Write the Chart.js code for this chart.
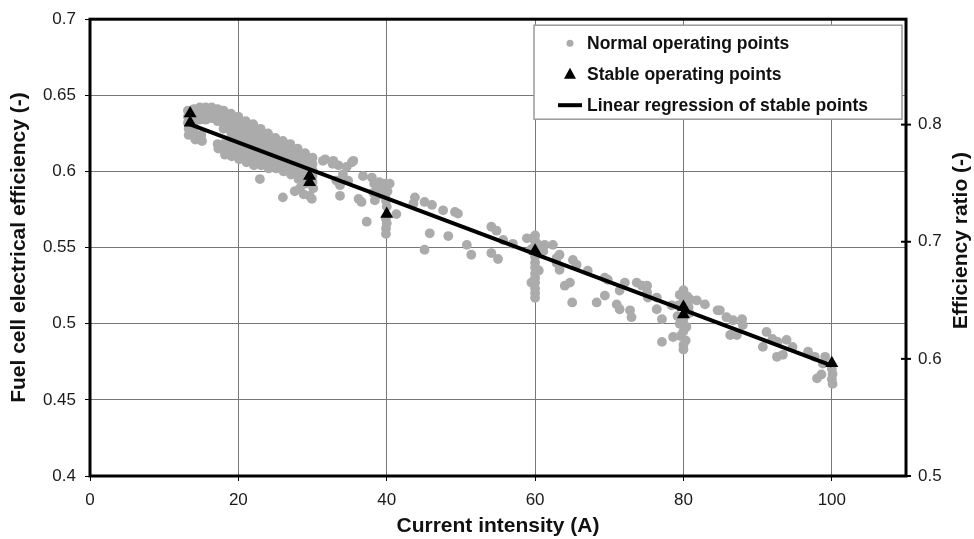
<!DOCTYPE html>
<html>
<head>
<meta charset="utf-8">
<script src="https://cdn.jsdelivr.net/npm/chart.js@4.4.0/dist/chart.umd.min.js"></script>
<style>
  html, body { margin: 0; padding: 0; background: #fff; }
  #wrap { width: 974px; height: 539px; }
</style>
</head>
<body>
<div id="wrap"><canvas id="chart" width="974" height="539"></canvas></div>
<script>
// Fuel cell efficiency vs current - scatter + stable points + regression

// ---------- Data ----------
const xTicks = [0, 20, 40, 60, 80, 100];
const effTicks = [0.4, 0.45, 0.5, 0.55, 0.6, 0.65, 0.7];
const ratioTicks = [0.5, 0.6, 0.7, 0.8];

const stableCurrent = [13.5, 13.5, 29.6, 29.6, 40, 60, 80, 80, 100];
const stableEff = [0.638, 0.632, 0.597, 0.593, 0.572, 0.548, 0.511, 0.506, 0.474];

const regressionCurrent = [13.5, 100];
const regressionEff = [0.631, 0.4725];

// normal operating points, [current (A), efficiency]
const normalLow = [
  [13.2,0.640],[13.2,0.636],[13.2,0.632],[13.3,0.628],[13.3,0.624],
  [14.0,0.641],[14.0,0.637],[14.0,0.633],[14.0,0.629],[14.1,0.625],[14.2,0.621],
  [14.8,0.642],[14.8,0.638],[14.8,0.634],[15.0,0.624],[15.1,0.620],
  [15.6,0.642],[15.6,0.638],[15.6,0.634],
  [16.4,0.642],[16.4,0.638],[16.4,0.635],
  [17.2,0.641],[17.2,0.637],[17.2,0.633],[17.2,0.618],[17.3,0.615],
  [18.0,0.640],[18.0,0.636],[18.0,0.632],[18.0,0.628],[18.0,0.618],[18.1,0.614],[18.2,0.611],
  [19.0,0.638],[19.0,0.634],[19.0,0.630],[19.0,0.626],[19.0,0.622],[19.0,0.618],[19.0,0.614],[19.1,0.610],
  [20.0,0.636],[20.0,0.632],[20.0,0.628],[20.0,0.624],[20.0,0.620],[20.0,0.616],[20.0,0.612],[20.1,0.608],
  [21.0,0.633],[21.0,0.629],[21.0,0.625],[21.0,0.621],[21.0,0.617],[21.0,0.613],[21.0,0.609],[21.1,0.606],
  [22.0,0.631],[22.0,0.627],[22.0,0.623],[22.0,0.619],[22.0,0.615],[22.0,0.611],[22.0,0.607],[22.1,0.604],
  [23.0,0.628],[23.0,0.624],[23.0,0.620],[23.0,0.616],[23.0,0.612],[23.0,0.608],[23.1,0.604],
  [24.0,0.625],[24.0,0.621],[24.0,0.617],[24.0,0.613],[24.0,0.609],[24.0,0.605],[24.1,0.602],
  [25.0,0.622],[25.0,0.618],[25.0,0.614],[25.0,0.610],[25.0,0.606],[25.1,0.602],
  [26.0,0.620],[26.0,0.616],[26.0,0.612],[26.0,0.608],[26.0,0.604],[26.1,0.600],
  [27.0,0.618],[27.0,0.614],[27.0,0.610],[27.0,0.606],[27.0,0.602],[27.1,0.598],
  [28.0,0.615],[28.0,0.611],[28.0,0.607],[28.0,0.603],[28.0,0.599],[28.1,0.595],
  [29.0,0.612],[29.0,0.608],[29.0,0.604],[29.0,0.600],[29.0,0.596],[29.1,0.592],
  [30.0,0.609],[30.0,0.605],[30.0,0.601],[30.0,0.597],[30.0,0.593],[30.1,0.589],
  [22.9,0.595],[26.0,0.583],[27.6,0.587],[28.3,0.589],[28.8,0.585],[29.6,0.584],[29.9,0.582],
  [29.6,0.606],[31.4,0.607],[31.7,0.608],[32.7,0.605]
];

const normalMid = [
  [32.8,0.607],[33.5,0.604],[34.6,0.603],[35.5,0.607],[35.3,0.606],[34.1,0.598],[33.2,0.594],
  [33.7,0.591],[34.8,0.594],[36.8,0.597],[38.0,0.596],[33.7,0.584],[36.2,0.582],[36.6,0.580],
  [38.4,0.581],[37.3,0.567],[40.4,0.592],
  [38.3,0.592],[39.0,0.593],[39.7,0.592],[38.6,0.588],[39.4,0.589],[40.1,0.587],[39.0,0.585],
  [39.8,0.584],[38.2,0.586],[39.9,0.581],[40.0,0.577],[39.9,0.569],[40.0,0.566],[39.9,0.5625],
  [39.9,0.559],[41.3,0.572],
  [43.8,0.583],[43.6,0.579],[45.1,0.580],[46.1,0.578],[47.6,0.5745],[49.2,0.5734],[49.6,0.5723],
  [45.8,0.5594],[48.3,0.5576],[45.1,0.5486],[50.8,0.5518],[51.4,0.5453],
  [54.1,0.5637],[54.8,0.5611],[55.7,0.5550],[54.1,0.5464],[55.0,0.5425],[57.0,0.5525],
  [58.9,0.5561],[59.7,0.5561],
  [60.0,0.558],[60.0,0.5545],[60.0,0.551],[60.0,0.547],[60.0,0.544],[60.0,0.540],[60.0,0.537],
  [60.0,0.533],[60.0,0.530],[60.0,0.527],[60.0,0.523],[60.0,0.520],[60.0,0.517],
  [59.5,0.549],[60.5,0.535],[59.5,0.527],[60.4,0.552]
];

const normalHigh = [
  [61.3,0.5518],[62.4,0.5518],[61.1,0.5475],[62.9,0.5399],[63.3,0.5453],[62.9,0.5432],
  [63.3,0.5354],[65.1,0.5419],[65.6,0.5387],[67.1,0.5348],[64.0,0.525],[64.7,0.527],
  [65.0,0.514],[68.3,0.514],[69.4,0.5185],[69.4,0.5302],[69.8,0.5289],[71.4,0.5218],
  [72.1,0.527],[71.0,0.5127],[71.4,0.5095],[72.8,0.5088],[73.0,0.5043],[73.7,0.527],
  [74.4,0.525],[75.1,0.525],[75.1,0.5205],[75.2,0.5172],[76.4,0.5172],[76.4,0.5095],
  [77.1,0.503],[77.1,0.4881],[78.6,0.4913],[78.4,0.5121],
  [80.0,0.522],[79.5,0.519],[80.5,0.518],[80.0,0.515],[79.3,0.512],[80.7,0.511],[80.0,0.503],
  [79.5,0.500],[80.4,0.498],[80.0,0.495],[79.6,0.492],[80.3,0.489],[80.0,0.486],[80.0,0.483],
  [79.2,0.505],[80.8,0.507],[80.9,0.516],
  [81.8,0.5153],[82.9,0.5127],[84.6,0.5088],[84.9,0.5088],[85.8,0.5043],[86.7,0.5023],
  [87.9,0.503],[88.0,0.4991],[86.3,0.4926],[87.2,0.4926],[91.2,0.4946],[90.7,0.4848],
  [92.0,0.490],[92.7,0.4881],[93.9,0.4894],[94.7,0.4848],[92.6,0.4783],[93.4,0.4796],
  [96.8,0.4816],[97.7,0.4783],[99.1,0.4783],[98.8,0.4738],[98.0,0.4641],[98.6,0.4667],
  [100.0,0.4705],[100.1,0.467],[100.0,0.4635],[100.1,0.4605]
];

// ---------- Helpers ----------
const FONT = '"Liberation Sans", Arial, Helvetica, sans-serif';
const pairs = (arr) => arr.map(([x, y]) => ({ x, y }));
const zip = (xs, ys) => xs.map((x, i) => ({ x, y: ys[i] }));
const fixTicks = (vals) => (scale) => { scale.ticks = vals.map(v => ({ value: v })); };
const fmt = (v) => String(+Number(v).toFixed(2));

Chart.defaults.font.family = FONT;
Chart.defaults.color = '#1a1a1a';

// frame, right-axis crossing ticks, rotated right title and boxed legend
const decorPlugin = {
  id: 'decor',
  afterDatasetsDraw(chart) {
    const { ctx, chartArea: a, scales } = chart;
    ctx.save();
    ctx.strokeStyle = '#000';
    ctx.lineWidth = 3;
    ctx.strokeRect(a.left, a.top, a.right - a.left, a.bottom - a.top);
    ctx.lineWidth = 2;
    for (const v of ratioTicks) {
      const y = scales.y2.getPixelForValue(v);
      ctx.beginPath(); ctx.moveTo(a.right - 5, y); ctx.lineTo(a.right + 5, y); ctx.stroke();
    }
    // right axis title reads bottom-to-top
    ctx.translate(961, (a.top + a.bottom) / 2 - 7);
    ctx.rotate(-Math.PI / 2);
    ctx.font = 'bold 21px ' + FONT;
    ctx.fillStyle = '#111';
    ctx.textAlign = 'center';
    ctx.textBaseline = 'middle';
    ctx.fillText('Efficiency ratio (-)', 0, 0);
    ctx.restore();
  },
  afterDraw(chart) {
    const { ctx, chartArea: a } = chart;
    const box = { x: a.right - 372, y: a.top + 6, w: 368, h: 94 };
    ctx.save();
    ctx.fillStyle = '#fff';
    ctx.fillRect(box.x, box.y, box.w, box.h);
    ctx.strokeStyle = '#9a9a9a';
    ctx.lineWidth = 1.5;
    ctx.strokeRect(box.x, box.y, box.w, box.h);
    ctx.font = 'bold 17.5px ' + FONT;
    ctx.textBaseline = 'middle';
    ctx.textAlign = 'left';
    const order = [0, 2, 1]; // normal, stable, regression
    order.forEach((di, row) => {
      const ds = chart.data.datasets[di];
      const cy = box.y + 18 + row * 31;
      const mx = box.x + 36;
      ctx.fillStyle = ds.legendColor;
      if (ds.legendShape === 'circle') {
        ctx.beginPath(); ctx.arc(mx, cy, 3.5, 0, Math.PI * 2); ctx.fill();
      } else if (ds.legendShape === 'triangle') {
        ctx.beginPath();
        ctx.moveTo(mx, cy - 6.5); ctx.lineTo(mx + 6, cy + 4.5); ctx.lineTo(mx - 6, cy + 4.5);
        ctx.closePath(); ctx.fill();
      } else {
        ctx.strokeStyle = ds.legendColor; ctx.lineWidth = 4;
        ctx.beginPath(); ctx.moveTo(mx - 12, cy); ctx.lineTo(mx + 12, cy); ctx.stroke();
      }
      ctx.fillStyle = '#111';
      ctx.fillText(ds.label, box.x + 53, cy + 1);
    });
    ctx.restore();
  }
};

// ---------- Chart ----------
new Chart(document.getElementById('chart'), {
  type: 'scatter',
  data: {
    datasets: [
      {
        label: 'Normal operating points',
        data: pairs([...normalLow, ...normalMid, ...normalHigh]),
        backgroundColor: '#ababab', borderWidth: 0, pointRadius: 4.9,
        order: 3, yAxisID: 'y', legendShape: 'circle', legendColor: '#ababab'
      },
      {
        label: 'Linear regression of stable points',
        data: zip(regressionCurrent, regressionEff),
        showLine: true, borderColor: '#000', borderWidth: 4, pointRadius: 0,
        order: 2, yAxisID: 'y', legendShape: 'line', legendColor: '#000'
      },
      {
        label: 'Stable operating points',
        data: zip(stableCurrent, stableEff),
        pointStyle: 'triangle', pointRadius: 7.5, backgroundColor: '#000', borderColor: '#000', borderWidth: 0,
        order: 1, yAxisID: 'y', legendShape: 'triangle', legendColor: '#000'
      }
    ]
  },
  options: {
    responsive: false,
    animation: false,
    layout: { padding: { top: 13, left: 0, right: 0, bottom: 0 } },
    plugins: { legend: { display: false }, tooltip: { enabled: false } },
    scales: {
      x: {
        type: 'linear', min: 0, max: 110,
        afterBuildTicks: fixTicks(xTicks),
        afterFit: (s) => { s.height = 63; },
        ticks: { font: { size: 17 }, padding: 9, maxRotation: 0, callback: (v) => String(v) },
        grid: { color: '#777', lineWidth: 1, tickLength: 5, tickColor: '#000' },
        border: { display: false },
        title: { display: true, text: 'Current intensity (A)', color: '#111',
                 font: { size: 21, weight: 'bold' }, padding: { top: 0, bottom: 0 } }
      },
      y: {
        position: 'left', min: 0.4, max: 0.7,
        afterBuildTicks: fixTicks(effTicks),
        afterFit: (s) => { s.width = 90; },
        ticks: { font: { size: 17 }, padding: 9, callback: fmt },
        grid: { color: '#777', lineWidth: 1, tickLength: 5, tickColor: '#000' },
        border: { display: false },
        title: { display: true, text: 'Fuel cell electrical efficiency (-)', color: '#111',
                 font: { size: 21, weight: 'bold' }, padding: { top: 7, bottom: 0 } }
      },
      y2: {
        position: 'right', min: 0.5, max: 0.89,
        afterBuildTicks: fixTicks(ratioTicks),
        afterFit: (s) => { s.width = 68; },
        ticks: { font: { size: 17 }, padding: 7, callback: fmt },
        grid: { drawOnChartArea: false, drawTicks: true, tickLength: 5, tickColor: '#000' },
        border: { display: false }
      }
    }
  },
  plugins: [decorPlugin]
});
</script>
</body>
</html>
